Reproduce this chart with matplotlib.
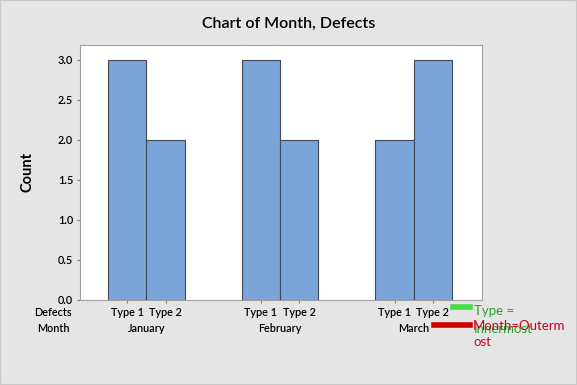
import matplotlib
matplotlib.use("Agg")
import matplotlib.pyplot as plt
from matplotlib.patches import Rectangle

plt.rcParams['font.family'] = ['Lato', 'DejaVu Sans']

months = ["January", "February", "March"]
types = ["Type 1", "Type 2"]
counts = [[3, 2], [3, 2], [2, 3]]  # per month: Type 1, Type 2

fig = plt.figure(figsize=(5.77, 3.85), dpi=100)
fig.patch.set_facecolor("#E5E5E5")
fig.patches.append(Rectangle((0, 0), 1, 1, transform=fig.transFigure, fill=False,
                             edgecolor="#C8C8C8", linewidth=1.5))
W, H = 577, 385
ax = fig.add_axes([80 / W, 1 - 300 / H, 402 / W, 255 / H])
ax.set_facecolor("white")

group_gap = 3.5
pos = []
for gi, m in enumerate(months):
    for ti, t in enumerate(types):
        x = gi * group_gap + ti
        pos.append(x)
        ax.bar(x, counts[gi][ti], width=1.0, color="#7BA5D9", edgecolor="#404858", linewidth=0.8)

ax.set_xlim(-1.24, 9.29)
ax.set_ylim(0, 3.1875)
yt = [0, 0.5, 1.0, 1.5, 2.0, 2.5, 3.0]
fs = 7.8
ax.set_yticks(yt)
ax.set_yticklabels([f"{v:.1f}" for v in yt], fontsize=fs, fontweight="semibold")
ax.set_xticks(pos)
ax.set_xticklabels([t for _ in months for t in types], fontsize=fs, fontweight="semibold")
ax.tick_params(axis="x", length=2.5, pad=2.5, color="#808080")
ax.tick_params(axis="y", length=2.5, pad=2.5, color="#808080")
for s in ax.spines.values():
    s.set_color("#A0A0A0")

for gi, m in enumerate(months):
    ax.text(gi * group_gap + 0.5, -0.35, m, ha="center", va="center", fontsize=fs,
            fontweight="semibold", transform=ax.transData)
fig.text(53 / W, 1 - 313 / H, "Defects", ha="center", va="center", fontsize=fs, fontweight="semibold")
fig.text(53 / W, 1 - 328 / H, "Month", ha="center", va="center", fontsize=fs, fontweight="semibold")

ax.set_ylabel("Count", fontsize=10.5, fontweight="bold", labelpad=17)
fig.text(0.5, 1 - 24 / H, "Chart of Month, Defects", ha="center", va="center", fontsize=11.5,
         fontweight="semibold")

# legend-like annotations
fig.add_artist(plt.Line2D([453 / W, 470 / W], [1 - 307 / H, 1 - 307 / H], color="#44DD44", linewidth=4))
fig.add_artist(plt.Line2D([434 / W, 470 / W], [1 - 325 / H, 1 - 325 / H], color="#CC0000", linewidth=4))
fig.text(474 / W, 1 - 311 / H, "Type =", ha="left", va="center", fontsize=9.5, color="#2E9E2E")
fig.text(474 / W, 1 - 329 / H, "Innermost", ha="left", va="center", fontsize=9.5, color="#2E9E2E")
fig.text(473 / W, 1 - 326 / H, "Month=Outerm", ha="left", va="center", fontsize=9.5, color="#CC0022")
fig.text(473 / W, 1 - 342 / H, "ost", ha="left", va="center", fontsize=9.5, color="#CC0022")

fig.savefig("out.png", dpi=100, facecolor=fig.get_facecolor())
